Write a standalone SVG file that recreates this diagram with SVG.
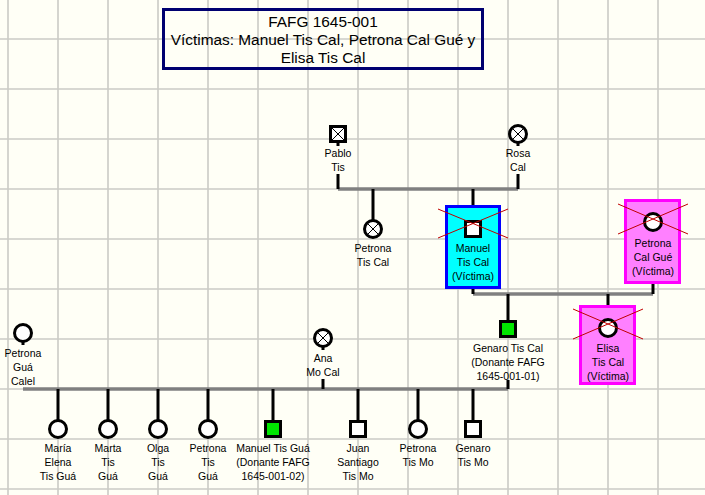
<svg xmlns="http://www.w3.org/2000/svg" width="705" height="495" viewBox="0 0 705 495">
<style>
.grid line{stroke:#cbcbc6;stroke-width:1.6}
.lbl{font-family:"Liberation Sans",Arial,sans-serif;font-size:10.5px;fill:#000;text-anchor:middle}
.ttl{font-family:"Liberation Sans",Arial,sans-serif;font-size:15.4px;fill:#000;text-anchor:middle}
.m{stroke:#000;stroke-width:3;fill:#fff}
.x{stroke:#000;stroke-width:1;fill:none}
.kid{stroke:#000;stroke-width:3;fill:none}
.mar{stroke:#808080;stroke-width:3.5;fill:none}
.vic{stroke:#c00000;stroke-width:1;fill:none}
.cyan{fill:#00ffff;stroke:#0000ff;stroke-width:3}
.pink{fill:#ff80ff;stroke:#ff00ff;stroke-width:3}
.don{fill:#00e600}
</style>
<rect x="0" y="0" width="705" height="495" fill="#fffff6"/>
<g class="grid">
<line x1="8" y1="0" x2="8" y2="495"/><line x1="58" y1="0" x2="58" y2="495"/><line x1="108" y1="0" x2="108" y2="495"/><line x1="158" y1="0" x2="158" y2="495"/><line x1="208" y1="0" x2="208" y2="495"/><line x1="258" y1="0" x2="258" y2="495"/><line x1="308" y1="0" x2="308" y2="495"/><line x1="358" y1="0" x2="358" y2="495"/><line x1="408" y1="0" x2="408" y2="495"/><line x1="458" y1="0" x2="458" y2="495"/><line x1="508" y1="0" x2="508" y2="495"/><line x1="558" y1="0" x2="558" y2="495"/><line x1="608" y1="0" x2="608" y2="495"/><line x1="658" y1="0" x2="658" y2="495"/>
<line x1="0" y1="39" x2="705" y2="39"/><line x1="0" y1="89" x2="705" y2="89"/><line x1="0" y1="139" x2="705" y2="139"/><line x1="0" y1="189" x2="705" y2="189"/><line x1="0" y1="239" x2="705" y2="239"/><line x1="0" y1="289" x2="705" y2="289"/><line x1="0" y1="339" x2="705" y2="339"/><line x1="0" y1="389" x2="705" y2="389"/><line x1="0" y1="439" x2="705" y2="439"/><line x1="0" y1="489" x2="705" y2="489"/>
</g>

<g id="title">
<rect x="163.5" y="9.5" width="319" height="59" fill="none" stroke="#000070" stroke-width="3"/>
<text class="ttl" x="323" y="27">FAFG 1645-001</text>
<text class="ttl" x="323" y="45">Víctimas: Manuel Tis Cal, Petrona Cal Gué y</text>
<text class="ttl" x="323" y="63">Elisa Tis Cal</text>
</g>

<g id="connectors">
<path class="mar" d="M338 189H518"/>
<path class="mar" d="M473 294H653"/>
<path class="mar" d="M23 389H508"/>
<path class="kid" d="M338 174V189M518 174V189M373 189V221M473 189V205"/>
<path class="kid" d="M473 289V294M653 284V294M508 294V321M608 294V305"/>
<path class="kid" d="M323 379V389M508 380V389"/>
<path class="kid" d="M58 389V421M108 389V421M158 389V421M208 389V421M273 389V421M358 389V421M418 389V421M473 389V421"/>
<path class="kid" d="M338 142V146M518 143V146M23 342V345M323 347V350"/>
</g>

<g id="pablo">
<rect class="m" x="330.5" y="126.5" width="15" height="15"/>
<path class="x" d="M332 128L344 140M344 128L332 140"/>
<text class="lbl" x="338" y="157">Pablo</text><text class="lbl" x="338" y="171">Tis</text>
</g>
<g id="rosa">
<circle class="m" cx="518" cy="134" r="8.5"/>
<path class="x" d="M512 128L524 140M524 128L512 140"/>
<text class="lbl" x="518" y="157">Rosa</text><text class="lbl" x="518" y="171">Cal</text>
</g>
<g id="petrona-tis-cal">
<circle class="m" cx="373" cy="229" r="8.5"/>
<path class="x" d="M367 223L379 235M379 223L367 235"/>
<text class="lbl" x="373" y="252">Petrona</text><text class="lbl" x="373" y="266">Tis Cal</text>
</g>
<g id="manuel-tis-cal">
<rect class="cyan" x="446.5" y="206.5" width="53" height="81"/>
<rect class="m" x="465.5" y="221.5" width="15" height="15"/>
<path class="vic" d="M438 209L508 238M438 238L508 209"/>
<text class="lbl" x="473" y="252">Manuel</text><text class="lbl" x="473" y="266">Tis Cal</text><text class="lbl" x="473" y="280">(Víctima)</text>
</g>
<g id="petrona-cal-gue">
<rect class="pink" x="625.5" y="200.5" width="54" height="82"/>
<circle class="m" cx="653" cy="222" r="8.5"/>
<path class="vic" d="M618 204L688 234M618 234L688 204"/>
<text class="lbl" x="653" y="247">Petrona</text><text class="lbl" x="653" y="261">Cal Gué</text><text class="lbl" x="653" y="275">(Víctima)</text>
</g>
<g id="genaro-tis-cal">
<rect class="m don" x="500.5" y="321.5" width="15" height="15"/>
<text class="lbl" x="508" y="352">Genaro Tis Cal</text><text class="lbl" x="508" y="366">(Donante FAFG</text><text class="lbl" x="508" y="380">1645-001-01)</text>
</g>
<g id="elisa">
<rect class="pink" x="580.5" y="306.5" width="54" height="77"/>
<circle class="m" cx="608" cy="328" r="8.5"/>
<path class="vic" d="M573 309L643 339M573 339L643 309"/>
<text class="lbl" x="608" y="352">Elisa</text><text class="lbl" x="608" y="366">Tis Cal</text><text class="lbl" x="608" y="380">(Víctima)</text>
</g>
<g id="petrona-gua-calel">
<circle class="m" cx="23" cy="333" r="8.5"/>
<text class="lbl" x="23" y="357">Petrona</text><text class="lbl" x="23" y="371">Guá</text><text class="lbl" x="23" y="385">Calel</text>
</g>
<g id="ana">
<circle class="m" cx="323" cy="338" r="8.5"/>
<path class="x" d="M317 332L329 344M329 332L317 344"/>
<text class="lbl" x="323" y="362">Ana</text><text class="lbl" x="323" y="376">Mo Cal</text>
</g>
<g id="maria-elena">
<circle class="m" cx="58" cy="429" r="8.5"/>
<text class="lbl" x="58" y="452">María</text><text class="lbl" x="58" y="466">Elena</text><text class="lbl" x="58" y="480">Tis Guá</text>
</g>
<g id="marta">
<circle class="m" cx="108" cy="429" r="8.5"/>
<text class="lbl" x="108" y="452">Marta</text><text class="lbl" x="108" y="466">Tis</text><text class="lbl" x="108" y="480">Guá</text>
</g>
<g id="olga">
<circle class="m" cx="158" cy="429" r="8.5"/>
<text class="lbl" x="158" y="452">Olga</text><text class="lbl" x="158" y="466">Tis</text><text class="lbl" x="158" y="480">Guá</text>
</g>
<g id="petrona-tis-gua">
<circle class="m" cx="208" cy="429" r="8.5"/>
<text class="lbl" x="208" y="452">Petrona</text><text class="lbl" x="208" y="466">Tis</text><text class="lbl" x="208" y="480">Guá</text>
</g>
<g id="manuel-tis-gua">
<rect class="m don" x="265.5" y="421.5" width="15" height="15"/>
<text class="lbl" x="273" y="452">Manuel Tis Guá</text><text class="lbl" x="273" y="466">(Donante FAFG</text><text class="lbl" x="273" y="480">1645-001-02)</text>
</g>
<g id="juan-santiago">
<rect class="m" x="350.5" y="421.5" width="15" height="15"/>
<text class="lbl" x="358" y="452">Juan</text><text class="lbl" x="358" y="466">Santiago</text><text class="lbl" x="358" y="480">Tis Mo</text>
</g>
<g id="petrona-tis-mo">
<circle class="m" cx="418" cy="429" r="8.5"/>
<text class="lbl" x="418" y="452">Petrona</text><text class="lbl" x="418" y="466">Tis Mo</text>
</g>
<g id="genaro-tis-mo">
<rect class="m" x="465.5" y="421.5" width="15" height="15"/>
<text class="lbl" x="473" y="452">Genaro</text><text class="lbl" x="473" y="466">Tis Mo</text>
</g>
</svg>
